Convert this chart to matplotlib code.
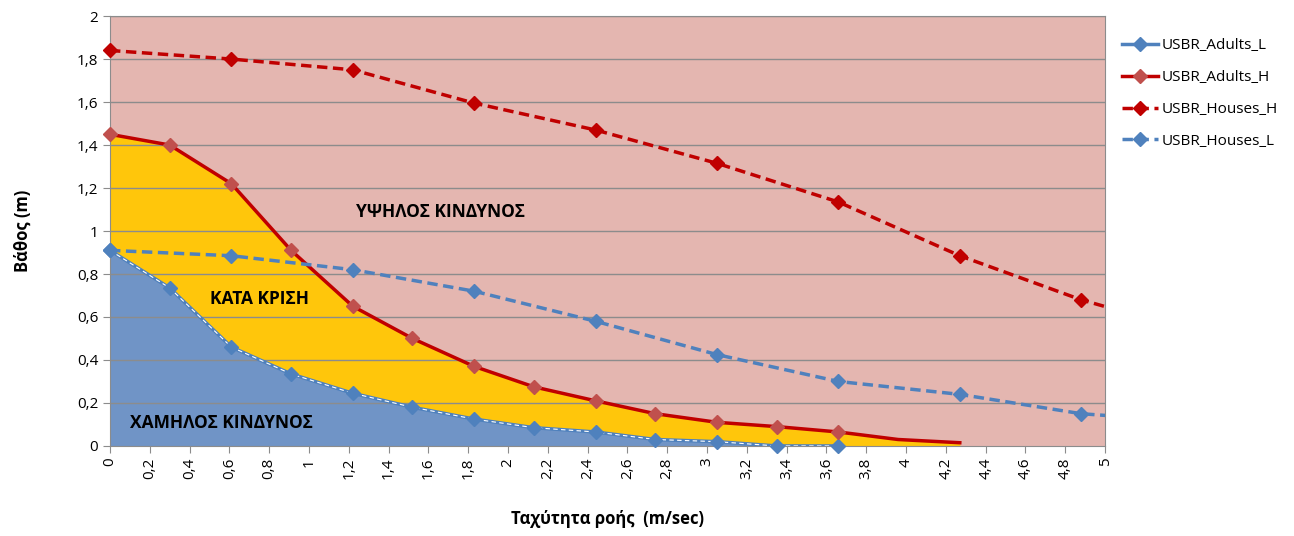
import numpy as np
import matplotlib
matplotlib.use("Agg")
import matplotlib.pyplot as plt
from matplotlib.lines import Line2D
from matplotlib.ticker import FuncFormatter

plt.rcParams["font.family"] = ["Open Sans", "DejaVu Sans"]

# velocities in m/s (1 ft steps)
x_adults = [0, 0.30, 0.61, 0.91, 1.22, 1.52, 1.83, 2.13, 2.44, 2.74, 3.05, 3.35, 3.66]
adults_L = [0.91, 0.735, 0.46, 0.335, 0.245, 0.18, 0.125, 0.085, 0.065, 0.03, 0.02, 0.0, 0.0]

x_adults_h = [0, 0.30, 0.61, 0.91, 1.22, 1.52, 1.83, 2.13, 2.44, 2.74, 3.05, 3.35, 3.66, 3.96, 4.27]
adults_H = [1.45, 1.40, 1.22, 0.91, 0.65, 0.50, 0.37, 0.275, 0.21, 0.15, 0.11, 0.09, 0.065, 0.03, 0.015]

x_houses = [0, 0.61, 1.22, 1.83, 2.44, 3.05, 3.66, 4.27, 4.88, 5.49]
houses_H = [1.84, 1.80, 1.75, 1.595, 1.47, 1.315, 1.135, 0.885, 0.68, 0.52]
houses_L = [0.91, 0.885, 0.82, 0.72, 0.58, 0.425, 0.30, 0.24, 0.15, 0.11]

zone_labels = ["ΥΨΗΛΟΣ ΚΙΝΔΥΝΟΣ", "ΚΑΤΑ ΚΡΙΣΗ", "ΧΑΜΗΛΟΣ ΚΙΝΔΥΝΟΣ"]

PINK = "#E4B6B0"
YELLOW = "#FFC60B"
BLUE_FILL = "#7094C6"
BLUE = "#4F81BD"
RED = "#C00000"
RED_MK = "#C0504D"
DASH = (0, (3, 1.6))

fig = plt.figure(figsize=(12.94, 5.36), dpi=100)
ax = fig.add_axes([0.085, 0.168, 0.769, 0.802])
ax.set_facecolor(PINK)

ax.fill_between(x_adults_h, adults_H, 0, color=YELLOW, lw=0, zorder=1)
ax.fill_between(x_adults, adults_L, 0, color=BLUE_FILL, lw=0, zorder=2)

for y in np.arange(0.2, 2.01, 0.2):
    ax.axhline(y, color="#8C8C8C", lw=1.0, zorder=3)

handles = []


def series(xs, ys, color, mcolor, ls, label, n_mk=None):
    ax.plot(xs, ys, color=color, lw=2.5, ls=ls, zorder=5)
    # markers drawn unclipped so those on the axes edge stay whole
    mx = [a for a in xs if a <= 5][:n_mk]
    my = ys[:len(mx)]
    ax.plot(mx, my, ls="none", marker="D", ms=7, mfc=mcolor, mec=mcolor,
            clip_on=False, zorder=6)
    handles.append(Line2D([], [], color=color, lw=2.5, ls=ls, marker="D", ms=7,
                          mfc=mcolor, mec=mcolor, label=label))


series(x_adults, adults_L, BLUE, BLUE, "-", "USBR_Adults_L")
ax.plot(x_adults, adults_L, color="white", lw=0.8, ls=(0, (4, 3)), zorder=5.5)
series(x_adults_h, adults_H, RED, RED_MK, "-", "USBR_Adults_H", n_mk=13)
series(x_houses, houses_H, RED, RED, DASH, "USBR_Houses_H")
series(x_houses, houses_L, BLUE, BLUE, DASH, "USBR_Houses_L")

ax.text(1.66, 1.09, zone_labels[0], fontsize=12.5, fontweight="bold", ha="center", va="center", zorder=7)
ax.text(0.75, 0.685, zone_labels[1], fontsize=12.5, fontweight="bold", ha="center", va="center", zorder=7)
ax.text(0.56, 0.105, zone_labels[2], fontsize=12.5, fontweight="bold", ha="center", va="center", zorder=7)

ax.set_xlim(0, 5)
ax.set_ylim(0, 2)
ax.set_xticks(np.arange(0, 5.01, 0.2))
ax.set_yticks(np.arange(0, 2.01, 0.2))
fmt = FuncFormatter(lambda v, p: ("%g" % round(v, 1)).replace(".", ","))
ax.xaxis.set_major_formatter(fmt)
ax.yaxis.set_major_formatter(fmt)
ax.tick_params(axis="x", labelrotation=90, labelsize=11, length=5, color="#8C8C8C")
ax.tick_params(axis="y", labelsize=11, length=5, color="#8C8C8C")
for s in ["top", "right", "left", "bottom"]:
    ax.spines[s].set_color("#8C8C8C")

ax.set_ylabel("Βάθος (m)", fontsize=12, fontweight="bold", labelpad=32)
ax.set_xlabel("Ταχύτητα ροής  (m/sec)", fontsize=12, fontweight="bold", labelpad=22)

ax.legend(handles=handles, loc="upper left", bbox_to_anchor=(1.003, 0.98),
          frameon=False, fontsize=11, handlelength=2.4, labelspacing=1.1,
          handletextpad=0.2, numpoints=1)

fig.savefig("out.png", dpi=100)
